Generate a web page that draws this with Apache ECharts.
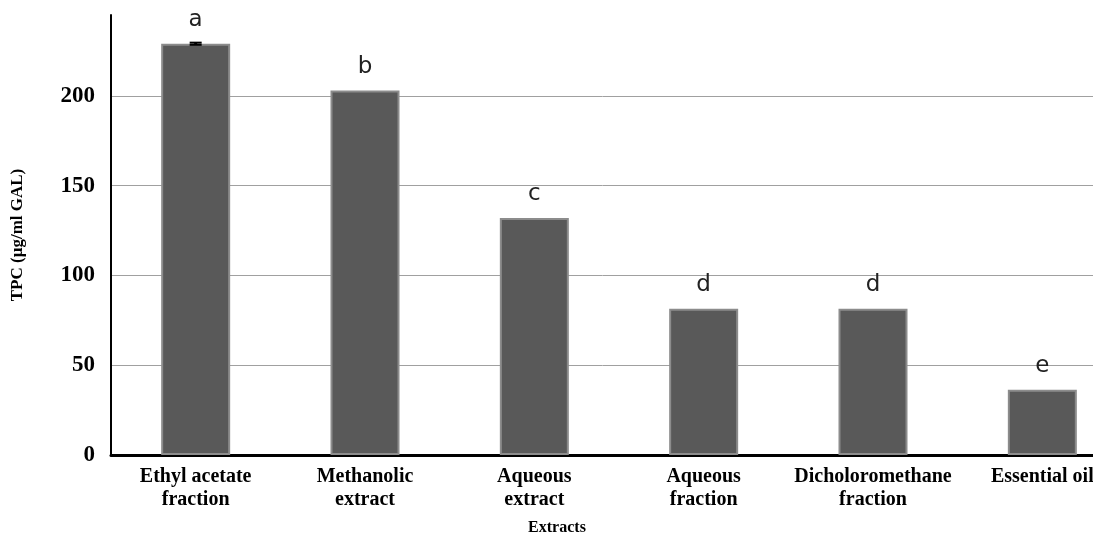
<!DOCTYPE html>
<html>
<head>
<meta charset="utf-8">
<script src="https://cdn.jsdelivr.net/npm/echarts@6/dist/echarts.min.js"></script>
<style>html,body{margin:0;padding:0;background:#fff;}#main{width:1093px;height:544px;}</style>
</head>
<body>
<div id="main"></div>
<script>
const categories = ["Ethyl acetate\nfraction", "Methanolic\nextract", "Aqueous\nextract", "Aqueous\nfraction", "Dicholoromethane\nfraction", "Essential oil"];
const tpcValues = [229, 203, 132, 81.5, 81.5, 36.3];
const tpcErrors = [0.6, 0, 0, 0, 0, 0];
const groupLetters = ["a", "b", "c", "d", "d", "e"];
const yTicks = [0, 50, 100, 150, 200];

const chart = echarts.init(document.getElementById('main'));
const serif = '"Liberation Serif", "Times New Roman", serif';
chart.setOption({
  animation: false,
  backgroundColor: '#ffffff',
  grid: { left: 111, right: -34, top: 15, bottom: 89, outerBoundsMode: 'none', containLabel: false },
  title: {
    text: 'Extracts', left: 552, top: 515, textAlign: 'center',
    textStyle: { fontFamily: serif, fontWeight: 'bold', fontSize: 16, color: '#000' }
  },
  xAxis: {
    type: 'category', data: categories,
    axisLine: { lineStyle: { color: '#000', width: 3 } },
    axisTick: { show: false },
    axisLabel: { fontFamily: serif, fontWeight: 'bold', fontSize: 20, lineHeight: 23, color: '#000', margin: 10, verticalAlign: 'top', interval: 0 }
  },
  yAxis: {
    type: 'value', min: 0, max: 245, interval: 50,
    name: 'TPC (µg/ml GAL)', nameLocation: 'middle', nameGap: 85,
    nameTextStyle: { fontFamily: serif, fontWeight: 'bold', fontSize: 17, color: '#000' },
    axisLine: { show: true, lineStyle: { color: '#000', width: 2 } },
    axisTick: { show: false },
    axisLabel: { fontFamily: serif, fontWeight: 'bold', fontSize: 23, color: '#000', margin: 16, showMaxLabel: false,
      formatter: v => yTicks.includes(v) ? String(v) : '' },
    splitLine: { show: true, showMaxLine: false, lineStyle: { color: '#a0a0a0', width: 1 } }
  },
  series: [
    {
      type: 'bar', data: tpcValues, barWidth: 69,
      itemStyle: { color: '#595959', borderColor: '#8c8c8c', borderWidth: 2 },
      label: {
        show: true, position: 'top', distance: 12,
        formatter: p => groupLetters[p.dataIndex],
        fontFamily: '"DejaVu Sans", sans-serif', fontSize: 23, color: '#222'
      }
    },
    {
      type: 'custom',
      renderItem: function (params, api) {
        const i = params.dataIndex;
        const err = tpcErrors[i];
        if (!err) return null;
        const hi = api.coord([i, tpcValues[i] + err]);
        const lo = api.coord([i, tpcValues[i] - err]);
        const w = 6;
        return {
          type: 'group',
          children: [
            { type: 'line', shape: { x1: hi[0], y1: hi[1], x2: lo[0], y2: lo[1] }, style: { stroke: '#000', lineWidth: 3 } },
            { type: 'line', shape: { x1: hi[0] - w, y1: hi[1], x2: hi[0] + w, y2: hi[1] }, style: { stroke: '#000', lineWidth: 2 } },
            { type: 'line', shape: { x1: lo[0] - w, y1: lo[1], x2: lo[0] + w, y2: lo[1] }, style: { stroke: '#000', lineWidth: 2 } }
          ]
        };
      },
      data: tpcValues.map((v, i) => [i, v]),
      z: 10
    }
  ]
});
</script>
</body>
</html>
